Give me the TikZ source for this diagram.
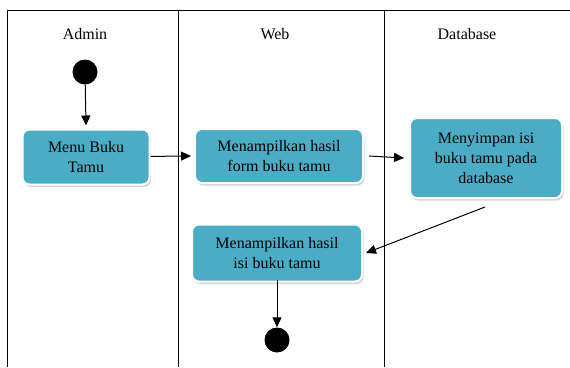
\documentclass[tikz,border=0pt]{standalone}
\usepackage{fontspec}
\setmainfont{Liberation Serif}
\usetikzlibrary{shadows,arrows.meta}
\definecolor{actblue}{HTML}{4BACC6}
\begin{document}
\begin{tikzpicture}[x=1pt, y=-1pt, >={Triangle[length=10pt,width=9pt]},
   act/.style={rectangle, rounded corners=7pt, fill=actblue, draw=white, line width=2pt,
     drop shadow={opacity=0.35, shadow xshift=1.5pt, shadow yshift=-2.5pt},
     align=center, inner sep=0pt, font=\fontsize{16}{20}\selectfont},
   dot/.style={circle, fill=black, minimum size=25pt, inner sep=0pt},
   lane/.style={font=\fontsize{16}{18}\selectfont},
   flow/.style={->, line width=1pt}
   ]
   \useasboundingbox (0,0) rectangle (570,367);

   % swimlanes
   \draw[line width=1pt] (7,367) -- (7,10) -- (570,10);
   \draw[line width=1pt] (178,10) -- (178,367);
   \draw[line width=1pt] (384,10) -- (384,367);
   \path (85,34) node[lane] (adm) {Admin}
   (275,34) node[lane] (web) {Web}
   (467,34) node[lane] (db) {Database};

   \node[dot] (start) at (85,72) {};
   \node[act, minimum width=127pt, minimum height=55pt] (menu) at (86,157) {Menu Buku\\Tamu};
   \node[act, minimum width=168pt, minimum height=54pt] (form) at (279,156) {Menampilkan hasil\\form buku tamu};
   \node[act, minimum width=152pt, minimum height=80pt] (simpan) at (486,158) {Menyimpan isi\\buku tamu pada\\database};
   \node[act, minimum width=170pt, minimum height=57pt] (isi) at (277,253) {Menampilkan hasil\\isi buku tamu};
   \node[dot] (stop) at (277,340) {};
   \coordinate (dbout) at (485,207);

   \draw[flow] (start) -- ([yshift=3pt]menu.north);
   \draw[flow] (menu) -- ([xshift=-3pt]form.west);
   \draw[flow] ([xshift=5pt]form.east) -- ([xshift=-5pt]simpan.west);
   \draw[flow] (dbout) -- ([xshift=3pt]isi.east);
   \draw[flow] ([yshift=3pt]isi.south) -- (stop);
\end{tikzpicture}
\end{document}
